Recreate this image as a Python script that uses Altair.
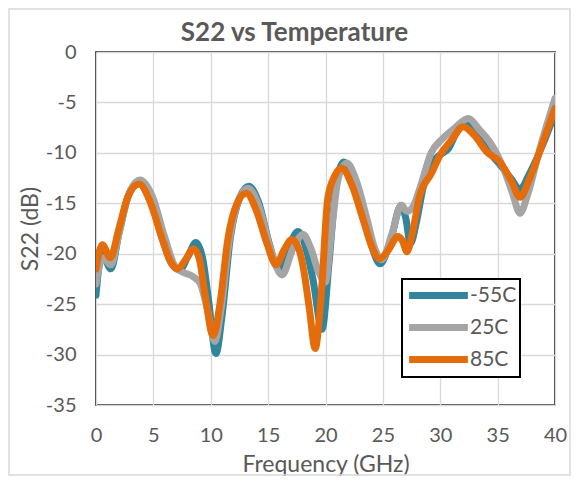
import altair as alt
import pandas as pd

# ---- data ----
series_names = ["-55C", "25C", "85C"]
series_colors = ["#31859C", "#A5A5A5", "#E46C0A"]

freq_m55 = [0.0, 0.5, 1.3, 2.0, 2.8, 3.8, 4.8, 5.8, 6.6, 7.3, 8.0, 8.7, 9.3, 9.8, 10.45,
            11.0, 11.7, 12.5, 13.3, 14.2, 15.1, 15.9, 16.8, 17.6, 18.3, 18.9, 19.7, 20.3,
            20.9, 21.6, 22.4, 23.4, 24.1, 24.75, 25.6, 26.6, 27.0, 27.4, 27.9, 28.5, 29.3,
            30.1, 30.7, 31.5, 32.3, 33.3, 34.3, 35.3, 36.2, 36.95, 37.8, 39.0, 40.0]
s22_m55 = [-24.1, -20.0, -21.5, -18.0, -14.3, -12.9, -14.8, -18.6, -21.0, -21.6, -20.3, -18.9,
           -20.5, -24.5, -29.9, -26.0, -18.5, -14.5, -13.3, -15.0, -19.0, -21.5, -19.3, -17.8,
           -19.5, -22.5, -27.5, -21.0, -13.5, -10.9, -12.4, -16.5, -19.5, -21.0, -19.0, -15.2,
           -16.5, -19.0, -17.0, -13.5, -11.0, -10.1, -9.6, -7.8, -7.1, -8.5, -10.0, -11.3,
           -12.6, -13.6, -12.0, -9.0, -6.0]

freq_25 = [0.0, 0.6, 1.3, 2.0, 2.9, 3.85, 4.9, 6.0, 6.9, 7.5, 8.5, 9.1, 9.7, 10.35, 10.9,
           11.6, 12.4, 13.25, 14.2, 15.2, 16.2, 17.2, 18.05, 18.7, 19.4, 20.0, 20.5, 21.1,
           21.85, 22.7, 23.6, 24.3, 24.9, 25.8, 26.6, 27.1, 27.6, 28.2, 29.2, 30.1, 31.2,
           32.45, 33.4, 34.3, 35.5, 36.3, 36.95, 37.6, 38.7, 40.0]
s22_25 = [-23.0, -20.4, -21.1, -18.0, -14.0, -12.7, -14.3, -18.4, -21.3, -21.8, -22.3, -23.0,
          -25.5, -28.7, -25.5, -18.8, -14.8, -13.5, -15.3, -19.5, -22.1, -19.4, -18.1, -19.4,
          -21.8, -22.8, -18.0, -12.6, -11.0, -12.8, -16.5, -19.5, -20.6, -18.0, -15.2, -15.8,
          -15.4, -13.6, -10.0, -8.7, -7.6, -6.6, -7.7, -8.9, -11.5, -14.0, -16.0, -14.2,
          -9.5, -4.6]

freq_85 = [0.0, 0.55, 1.25, 2.0, 2.8, 3.75, 4.7, 5.7, 6.5, 7.1, 7.8, 8.5, 9.0, 9.5, 10.2,
           10.8, 11.5, 12.3, 13.1, 14.0, 14.9, 15.7, 16.4, 17.05, 17.7, 18.1, 18.6, 19.1,
           19.6, 20.2, 20.8, 21.4, 22.3, 23.3, 24.0, 24.7, 25.5, 26.3, 26.7, 27.1, 27.6,
           28.2, 29.25, 30.0, 31.0, 32.0, 33.0, 34.05, 35.2, 36.2, 36.95, 37.8, 39.0, 40.0]
s22_85 = [-21.5, -19.1, -20.4, -17.5, -14.3, -13.1, -14.8, -18.3, -20.8, -21.5, -20.6, -19.5,
          -20.5, -24.0, -28.1, -25.0, -18.5, -15.0, -14.0, -15.8, -19.0, -21.1, -19.6, -18.6,
          -19.6, -21.6, -25.5, -29.4, -24.5, -14.5, -12.3, -11.5, -13.2, -16.7, -19.2, -20.5,
          -19.6, -18.3, -18.7, -19.8, -17.8, -14.3, -12.0, -10.2, -8.7, -7.4, -8.3, -9.9,
          -10.9, -12.8, -14.4, -12.5, -8.8, -5.6]

x_ticks = [0, 5, 10, 15, 20, 25, 30, 35, 40]
y_ticks = [-35, -30, -25, -20, -15, -10, -5, 0]

FONT = "Lato"
TXT = "#595959"

def frame(freqs, vals, name):
    return pd.DataFrame({"Frequency": freqs, "S22": vals, "Temp": name})

dfs = [frame(freq_m55, s22_m55, series_names[0]),
       frame(freq_25, s22_25, series_names[1]),
       frame(freq_85, s22_85, series_names[2])]

color = alt.Color(
    "Temp:N",
    scale=alt.Scale(domain=series_names, range=series_colors),
    legend=alt.Legend(
        title=None,
        orient="none",
        legendX=306,
        legendY=227,
        symbolType="M-3,0H3",
        symbolSize=384,
        symbolStrokeWidth=7,
        symbolOffset=20,
        labelOffset=18,
        rowPadding=3,
        padding=3,
        labelFont=FONT,
        labelFontSize=21,
        labelColor=TXT,
        strokeColor="black",
        fillColor="white",
    ),
)

xenc = alt.X(
    "Frequency:Q",
    scale=alt.Scale(domain=[0, 40], nice=False, zero=False),
    axis=alt.Axis(
        values=x_ticks,
        title="Frequency (GHz)",
        titleX=229.5,
        titleY=59,
        titleBaseline="middle",
        titleAlign="center",
        labelPadding=20,
        labelFlush=False,
    ),
)
yenc = alt.Y(
    "S22:Q",
    scale=alt.Scale(domain=[-35, 0], nice=False, zero=False),
    axis=alt.Axis(
        values=y_ticks,
        title="S22 (dB)",
        titleX=-66,
        titleY=176.5,
        titleAngle=270,
        titleBaseline="middle",
        titleAlign="center",
        labelPadding=20,
        labelFlush=False,
        labelExpr="'' + datum.value",
    ),
)

border = alt.Chart(alt.Data(values=[{"k": 1}])).mark_rect(
    filled=False, stroke="#D9D9D9", strokeWidth=1.5
).encode(
    x=alt.value(-87), x2=alt.value(474), y=alt.value(-43), y2=alt.value(423)
)

layers = [border]
for df in dfs:
    layers.append(
        alt.Chart(df).mark_line(
            strokeWidth=7, strokeCap="round", strokeJoin="round",
            interpolate="monotone", clip=True
        ).encode(x=xenc, y=yenc, color=color)
    )

chart = alt.layer(*layers).properties(
    width=459,
    height=353,
    background="white",
    autosize=alt.AutoSizeParams(type="none"),
    padding={"left": 88, "top": 44, "right": 16, "bottom": 71},
    title=alt.TitleParams(
        text="S22 vs Temperature",
        font=FONT,
        fontSize=26,
        fontWeight="bold",
        color=TXT,
        anchor="middle",
        frame="group",
        dx=-31,
        dy=46,
        offset=8,
    ),
).configure_view(
    stroke="black", strokeWidth=1.5
).configure_legend(
    strokeWidth=2
).configure_axis(
    grid=True,
    gridColor="#D9D9D9",
    gridWidth=1.3,
    domain=False,
    ticks=False,
    labelFont=FONT,
    labelFontSize=20,
    labelColor=TXT,
    titleFont=FONT,
    titleFontSize=23,
    titleFontWeight="normal",
    titleColor=TXT,
)

chart.save("out.html", embed_options={"renderer": "svg", "actions": False})
